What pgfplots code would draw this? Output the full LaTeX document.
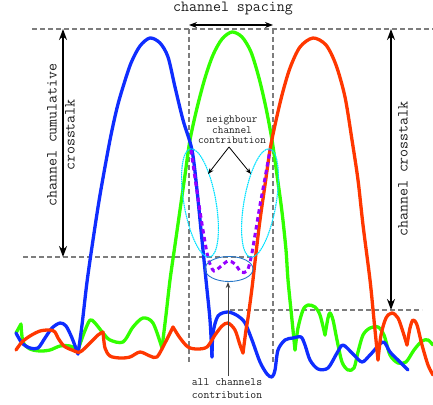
\documentclass[border=0pt]{standalone}
\usepackage{fontspec}
\usepackage{pgfplots}
\pgfplotsset{compat=1.18}
\usetikzlibrary{arrows.meta}
\definecolor{cblue}{RGB}{15,45,255}
\definecolor{cgreen}{RGB}{50,255,0}
\definecolor{cred}{RGB}{255,55,0}
\definecolor{cpurple}{RGB}{150,0,255}
\definecolor{ccyan}{RGB}{0,225,255}
\definecolor{csteel}{RGB}{40,120,200}
\definecolor{cgray}{RGB}{125,125,125}
\definecolor{ctext}{RGB}{30,30,30}
\tikzset{dsh/.style={draw=cgray,line width=2.2pt,dash pattern=on 5pt off 3pt}}
\begin{document}
\begin{tikzpicture}
\begin{axis}[width=433pt,height=404pt,scale only axis,
  xmin=0,xmax=433,ymin=0,ymax=404,y dir=reverse,hide axis,clip=true,
  crv/.style={line width=3.3pt,line join=round,line cap=round,smooth,tension=0.5},
]
\path (axis cs:0,0) coordinate (BBa);
\path (axis cs:433,404) coordinate (BBb);
% dashed guide lines
\addplot[dsh] coordinates {(32,29)(433,29)};
\addplot[dsh] coordinates {(189,29)(189,363)};
\addplot[dsh] coordinates {(273,29)(273,363)};
\addplot[dsh] coordinates {(23,257)(253,257)};
\addplot[dsh] coordinates {(230,310)(422,310)};
% green
\addplot[crv,cgreen] coordinates {(16,333)(21,324)};
\addplot[crv,cgreen] coordinates {(21,324)(23,342)(30,349)(40,351)(50,350)(60,346)(70,346)(78,350)};
\addplot[crv,cgreen] coordinates {(78,350)(84,333)(90,320)(95,323)(103,333)(110,340)(123,342)(133,327)(143,318)(153,323)(162,348)};
\addplot[crv,cgreen] coordinates {(162,348)(166,315)(170,280)(175,245)(180,210)(185,175)(190,140)(197,108)(205,78)(213,55)(222,39)(232,32)(242,37)(251,52)(259,78)(266,108)(272,140)(277,175)(282,212)(286,250)(288,280)(292,320)(295,350)};
\addplot[crv,cgreen] coordinates {(295,350)(298,328)(303,310)(308,305)(315,307)(320,315)(325,335)};
\addplot[crv,cgreen] coordinates {(325,335)(328,318)(330,313)(333,320)(337,340)(342,362)(348,370)(354,368)(358,352)(363,335)(370,328)(378,327)(384,335)(390,355)(398,363)(406,362)(414,350)(422,341)(428,340)(433,345)};
% blue
\addplot[crv,cblue] coordinates {(16,333)(22,343)(30,348)(38,348)(45,338)(52,328)(60,323)(66,326)(72,338)(78,354)};
\addplot[crv,cblue] coordinates {(78,354)(82,325)(87,282)(93,240)(100,195)(110,140)(117,108)(123,87)(131,63)(140,46)(150,38)(160,43)(168,57)(175,87)(183,120)(192,150)(197,190)(201,230)(206,280)(210,320)(212,357)};
\addplot[crv,cblue] coordinates {(212,357)(213,333)(218,316)(228,312)(238,316)(245,323)(252,340)(260,362)(267,374)(272,377)(275,370)(278,350)(285,340)(293,338)(301,337)(305,345)(310,360)(318,369)(328,368)(337,353)(343,345)(353,354)(362,362)(370,355)(383,342)(390,352)(400,362)(408,370)};
% red
\addplot[crv,cred] coordinates {(16,350)(22,342)(30,336)(40,331)(50,330)(55,332)(58,338)(64,346)(72,350)(80,352)(90,343)(98,335)(103,332)};
\addplot[crv,cred] coordinates {(103,332)(105,348)(110,356)(120,358)(130,357)(140,352)(150,356)(157,357)(165,343)(173,327)};
\addplot[crv,cred] coordinates {(173,327)(180,338)(188,347)(197,349)(207,347)(215,335)(222,326)(228,323)(235,330)(240,345)(243,353)};
\addplot[crv,cred] coordinates {(243,353)(246,330)(248,318)(252,288)(256,253)(260,220)(265,185)(270,150)(275,125)(282,95)(290,68)(300,47)(313,38)(326,45)(336,65)(345,97)(352,140)(358,180)(363,225)(370,280)(374,320)(378,360)};
\addplot[crv,cred] coordinates {(378,360)(381,335)(386,318)(392,313)(398,318)(403,332)(407,345)};
\addplot[crv,cred] coordinates {(407,345)(410,328)(413,320)(417,325)(422,345)(428,365)(433,375)};
% purple dotted contribution
\addplot[cpurple,line width=3pt,dash pattern=on 4.5pt off 3.5pt,smooth,tension=0.5] coordinates {(191,150)(195,178)(199,205)(203,230)(207,253)(210,264)(214,271)(220,267)(228,261)(235,264)(241,272)(247,271)(251,258)(255,235)(260,205)(265,178)(270,150)};
% ellipses
\draw[ccyan,line width=1.1pt,dash pattern=on 1.6pt off 0.6pt,rotate around={10:(axis cs:200,203)}] (axis cs:200,203) ellipse [x radius=16pt,y radius=55pt];
\draw[ccyan,line width=1.1pt,dash pattern=on 1.6pt off 0.6pt,rotate around={-10:(axis cs:260,203)}] (axis cs:260,203) ellipse [x radius=16pt,y radius=55pt];
\draw[csteel,line width=0.9pt] (axis cs:229,269) ellipse [x radius=24pt,y radius=12.5pt];
% arrows
\draw[black,line width=1.2pt,{Stealth[length=8pt,width=6pt]}-{Stealth[length=8pt,width=6pt]}] (axis cs:189,25) -- (axis cs:273,25);
\draw[black,line width=1.5pt,{Stealth[length=11pt,width=8pt]}-{Stealth[length=11pt,width=8pt]}] (axis cs:63,29) -- (axis cs:63,257);
\draw[black,line width=1.5pt,{Stealth[length=11pt,width=8pt]}-{Stealth[length=11pt,width=8pt]}] (axis cs:391,29) -- (axis cs:391,310);
\draw[black,line width=0.8pt,-{Stealth[length=6pt,width=4.5pt]}] (axis cs:229,147) -- (axis cs:208,174);
\draw[black,line width=0.8pt,-{Stealth[length=6pt,width=4.5pt]}] (axis cs:229,147) -- (axis cs:251,174);
\draw[black!75,line width=1pt,-{Stealth[length=6pt,width=4.5pt]}] (axis cs:228,376) -- (axis cs:228,282);
% texts
\node[text=ctext,font=\ttfamily\fontsize{15.5}{17}\selectfont] at (axis cs:233,9) {channel spacing};
\node[text=ctext,rotate=90,align=center,font=\ttfamily\fontsize{15.5}{18}\selectfont] at (axis cs:61,135) {channel cumulative\\crosstalk};
\node[text=ctext,rotate=90,font=\ttfamily\fontsize{15.5}{17}\selectfont] at (axis cs:403,169) {channel crosstalk};
\node[text=ctext,align=center,inner sep=0pt,font=\ttfamily\fontsize{11}{10.5}\selectfont] at (axis cs:232,130) {neighbour\\channel\\contribution};
\node[text=ctext,align=center,inner sep=0pt,font=\ttfamily\fontsize{11.4}{13}\selectfont] at (axis cs:227,389) {all channels\\contribution};
\end{axis}
\pgfresetboundingbox
\path[use as bounding box] (BBa) rectangle (BBb);
\end{tikzpicture}
\end{document}
